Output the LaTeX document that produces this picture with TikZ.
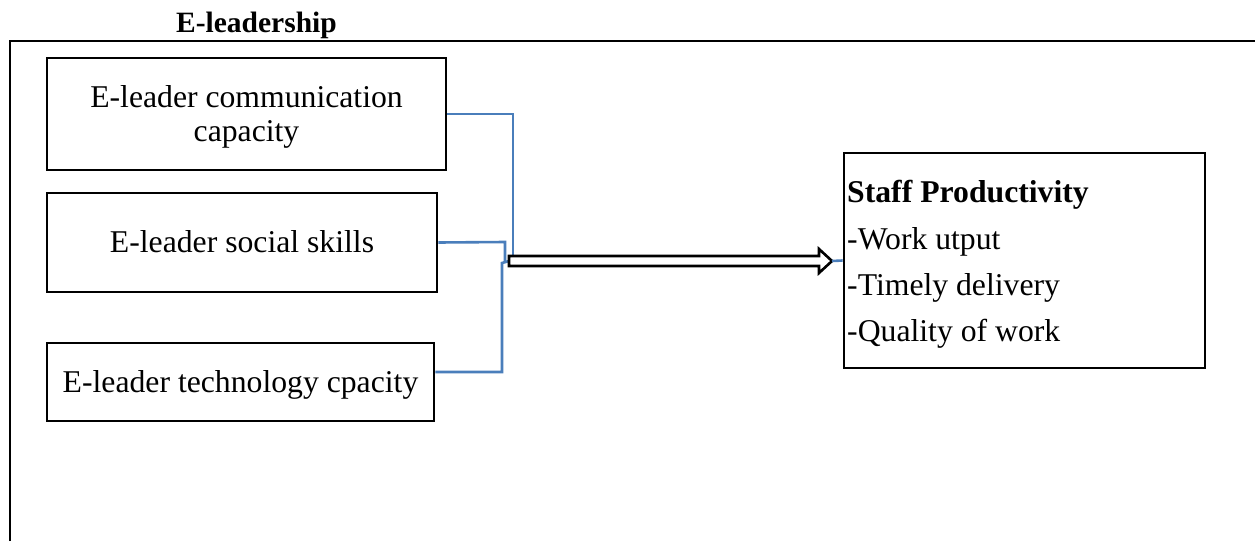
\documentclass[tikz,border=0pt]{standalone}
\usepackage{fontspec}
\setmainfont{Liberation Serif}
\definecolor{linkblue}{HTML}{4A7EBB}
\begin{document}
\begin{tikzpicture}[x=1pt,y=-1pt,
  frame/.style={draw=black,line width=2.6pt},
  factorbox/.style={draw=black,line width=2.8pt,rectangle,inner sep=0pt},
  boxtext/.style={anchor=base,inner sep=0pt,font=\fontsize{31.7}{35}\selectfont},
  itemtext/.style={anchor=base west,inner sep=0pt,font=\fontsize{31.7}{35}\selectfont},
  link/.style={draw=linkblue,line width=2.6pt},
  bigarrow/.style={draw=black,fill=white,line width=2.6pt,line join=miter}]
\useasboundingbox (0,0) rectangle (1255,541);

% outer frame (top and left sides only)
\draw[frame] (10,541) -- (10,41) -- (1256,41);

% heading
\node[anchor=base,inner sep=0pt,font=\fontsize{29.5}{32}\selectfont\bfseries] (title) at (256.5,32) {E-leadership};

% the three e-leadership factors
\node[factorbox,minimum width=399pt,minimum height=112pt] (comm) at (246.5,114) {};
\node[boxtext] (comm-l1) at (246.5,107.5) {E-leader communication};
\node[boxtext] (comm-l2) at (246.5,141.5) {capacity};

\node[factorbox,minimum width=390pt,minimum height=99pt] (social) at (242,242.5) {};
\node[boxtext] (social-l1) at (242,252.5) {E-leader social skills};

\node[factorbox,minimum width=387pt,minimum height=78pt] (tech) at (240.5,382) {};
\node[boxtext] (tech-l1) at (240.5,392.5) {E-leader technology cpacity};

% outcome
\node[factorbox,minimum width=361pt,minimum height=215pt] (staff) at (1024.5,260.5) {};
\node[itemtext,font=\fontsize{31.7}{35}\selectfont\bfseries] (staff-head) at (847,202) {Staff Productivity};
\node[itemtext] (staff-i1) at (847,249) {-Work utput};
\node[itemtext] (staff-i2) at (847,295.5) {-Timely delivery};
\node[itemtext] (staff-i3) at (847,341) {-Quality of work};

% joining point and arrow ends
\coordinate (tail) at (509,261);
\coordinate (tip) at (832,261);

% connectors from the factors
\draw[link] (comm.east) -- (513,114) -- (513,258);
\draw[link] (social.east) -- (505,242) -- (505,262);
\draw[link] ([yshift=10pt]tech.east) -- (502,372) -- (502,263) -- (tail);

% hollow block arrow
\draw[bigarrow] (tail) ++(0,-5) -- ++(310,0) -- ++(0,-7) -- (tip) -- ++(-13,12) -- ++(0,-7) -- ++(-310,0) -- cycle;

% link from arrow to outcome box
\draw[link] (tip) -- (staff.west);
\end{tikzpicture}
\end{document}
